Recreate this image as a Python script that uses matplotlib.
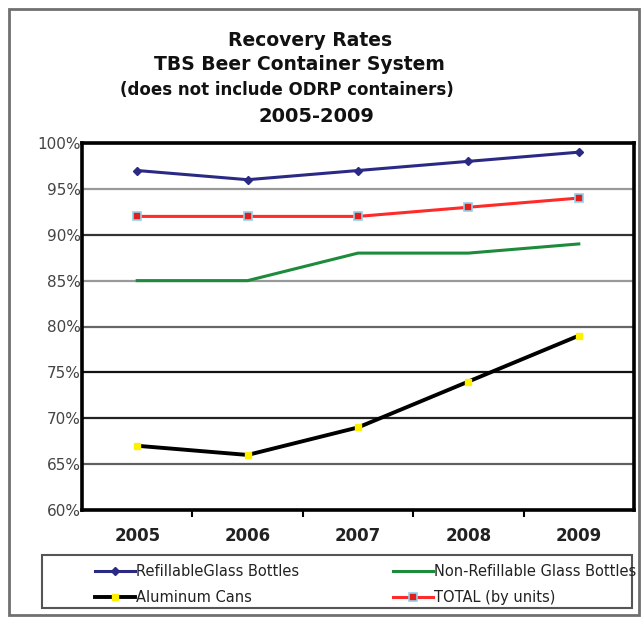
import matplotlib
matplotlib.use("Agg")
import matplotlib.pyplot as plt
from matplotlib.patches import Rectangle

years = ["2005", "2006", "2007", "2008", "2009"]
refillable = [97, 96, 97, 98, 99]
non_refillable = [85, 85, 88, 88, 89]
aluminum = [67, 66, 69, 74, 79]
total = [92, 92, 92, 93, 94]
yticks = [60, 65, 70, 75, 80, 85, 90, 95, 100]
ytick_labels = [f"{v}%" for v in yticks]

W, H = 641, 619
fig = plt.figure(figsize=(W / 100, H / 100), dpi=100)
fig.patch.set_facecolor("white")

def fx(px):
    return px / W

def fy(py):
    return 1 - py / H

# outer frame
fig.patches.append(Rectangle((fx(9), fy(615)), fx(630), (606) / H, transform=fig.transFigure,
                             fill=False, edgecolor="#707070", lw=2.0))

ax = fig.add_axes([fx(82), fy(510), fx(552), (510 - 143) / H])
x = list(range(len(years)))

ax.set_xlim(-0.5, 4.5)
ax.set_ylim(60, 100)
ax.set_yticks(yticks)
ax.set_yticklabels(ytick_labels, fontsize=11, color="#444444")
ax.tick_params(axis="y", length=0, pad=1)
ax.set_xticks(x)
ax.set_xticklabels(years, fontsize=12, fontweight="bold", color="#222222")
ax.set_xticks([0.5, 1.5, 2.5, 3.5], minor=True)
ax.tick_params(axis="x", which="major", length=0, pad=12)
ax.tick_params(axis="x", which="minor", length=5, width=1.5, color="black", direction="out")

ax.grid(axis="y", lw=1.6)
grid_colors = ["#555555", "#606060", "#222222", "#111111", "#666666", "#999999", "#333333", "#999999", "#111111"]
for gl, c in zip(ax.get_ygridlines(), grid_colors):
    gl.set_color(c)
ax.set_axisbelow(True)

for s in ax.spines.values():
    s.set_linewidth(2.6)
    s.set_color("black")

ax.plot(x, refillable, color="#2A2A85", lw=2.2, marker="D", ms=4.5, mfc="#2A2A85", mec="#2A2A85",
        label="RefillableGlass Bottles")
ax.plot(x, total, color="#FF2A2A", lw=2.2, marker="s", ms=5.5, mfc="#E02020", mec="#8FD3E8", mew=1.2,
        label="TOTAL (by units)")
ax.plot(x, non_refillable, color="#1E8A3C", lw=2.2, label="Non-Refillable Glass Bottles")
ax.plot(x, aluminum, color="black", lw=2.8, marker="s", ms=5, mfc="#FFF000", mec="#FFF000",
        label="Aluminum Cans")

# titles
fig.text(fx(310), fy(40), "Recovery Rates", ha="center", va="center", fontsize=13.5, fontweight="bold", color="#111111")
fig.text(fx(299), fy(65), "TBS Beer Container System", ha="center", va="center", fontsize=13.5, fontweight="bold", color="#111111")
fig.text(fx(287), fy(90), "(does not include ODRP containers)", ha="center", va="center", fontsize=12, fontweight="bold", color="#111111")
fig.text(fx(316), fy(116), "2005-2009", ha="center", va="center", fontsize=14, fontweight="bold", color="#111111")

# legend box
fig.patches.append(Rectangle((fx(42), fy(608)), fx(590), (608 - 555) / H, transform=fig.transFigure,
                             fill=False, edgecolor="#555555", lw=1.5))

h = {l.get_label(): l for l in ax.get_lines()}
common = dict(loc="upper left", frameon=False, fontsize=10.5, handlelength=2.7,
              handletextpad=0.1, labelspacing=0.75, borderpad=0)
leg1 = fig.legend([h["RefillableGlass Bottles"], h["Aluminum Cans"]],
                  ["RefillableGlass Bottles", "Aluminum Cans"],
                  bbox_to_anchor=(fx(88), fy(557)), **common)
leg2 = fig.legend([h["Non-Refillable Glass Bottles"], h["TOTAL (by units)"]],
                  ["Non-Refillable Glass Bottles", "TOTAL (by units)"],
                  bbox_to_anchor=(fx(386), fy(557)), **common)
for leg in (leg1, leg2):
    for t in leg.get_texts():
        t.set_color("#222222")

fig.savefig("out.png", dpi=100)
